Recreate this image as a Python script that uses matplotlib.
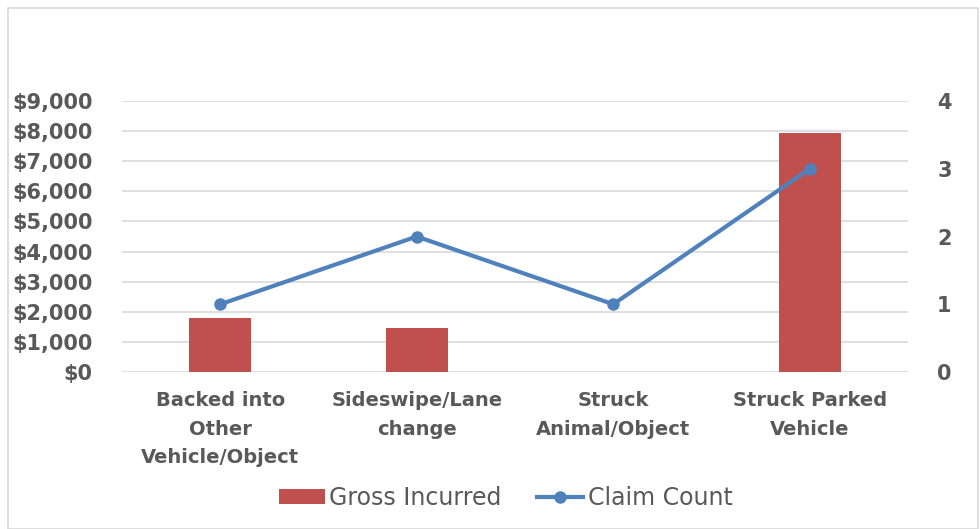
import matplotlib.pyplot as plt
import numpy as np
from matplotlib.patches import Rectangle

categories = ["Backed into\nOther\nVehicle/Object", "Sideswipe/Lane\nchange",
              "Struck\nAnimal/Object", "Struck Parked\nVehicle"]
gross_incurred = [1800, 1460, 0, 7940]
claim_count = [1, 2, 1, 3]
left_ticks = [0, 1000, 2000, 3000, 4000, 5000, 6000, 7000, 8000, 9000]
right_ticks = [0, 1, 2, 3, 4]

plt.rcParams['font.family'] = ['DejaVu Sans']
txt = '#595959'

fig = plt.figure(figsize=(9.8, 5.29), dpi=100)
fig.patches.append(Rectangle((0.008, 0.0), 0.99, 0.985, transform=fig.transFigure,
                             fill=False, edgecolor='#d9d9d9', lw=1.2))
ax = fig.add_axes([0.1245, 0.2968, 0.802, 0.5122])
x = np.arange(len(categories))
bars = ax.bar(x, gross_incurred, width=0.315, color='#C0504D', zorder=2,
              label='Gross Incurred')
ax.set_xlim(-0.5, 3.5)
ax.set_ylim(0, 9000)
ax.set_yticks(left_ticks)
ax.set_yticklabels(['${:,}'.format(v) for v in left_ticks])
ax.grid(axis='y', color='#d9d9d9', lw=1.2, zorder=0)
ax.set_xticks(x)
ax.set_xticklabels(categories, linespacing=1.62, va='top')
for s in ax.spines.values():
    s.set_visible(False)
ax.tick_params(axis='both', length=0, colors=txt, labelsize=14)
ax.tick_params(axis='y', labelsize=15, pad=21)
ax.tick_params(axis='x', pad=14)
for lab in ax.get_xticklabels() + ax.get_yticklabels():
    lab.set_fontweight('bold')

ax2 = ax.twinx()
line, = ax2.plot(x, claim_count, color='#4F81BD', lw=3, marker='o', ms=8,
                 label='Claim Count', zorder=3)
ax2.set_ylim(0, 4)
ax2.set_yticks(right_ticks)
for s in ax2.spines.values():
    s.set_visible(False)
ax2.tick_params(axis='y', length=0, colors=txt, labelsize=15, pad=21)
for lab in ax2.get_yticklabels():
    lab.set_fontweight('bold')

leg = fig.legend([bars, line], ['Gross Incurred', 'Claim Count'], loc='center',
                 bbox_to_anchor=(0.516, 0.058), ncol=2, frameon=False,
                 fontsize=17, handlelength=1.95, handleheight=0.6,
                 columnspacing=1.5, handletextpad=0.2)
for t in leg.get_texts():
    t.set_color(txt)

fig.savefig('out.png', dpi=100)
